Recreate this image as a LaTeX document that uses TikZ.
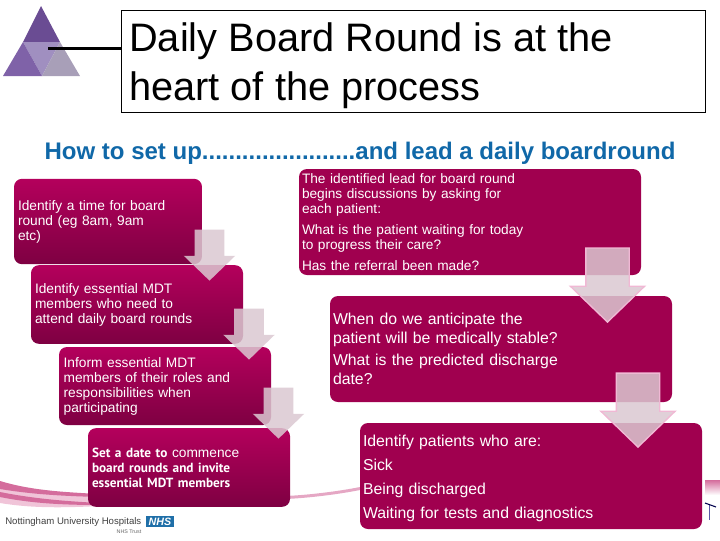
\documentclass[tikz,border=0pt]{standalone}
\usepackage{fontspec}
\setmainfont{Liberation Sans}
\usetikzlibrary{shapes.arrows}
\newfontfamily\boldsetfont{PT Sans}
\newcommand{\boldpart}[1]{{\boldsetfont\fontsize{9.95}{11.25}\bfseries\selectfont #1}}
\definecolor{boxtop}{HTML}{B4005C}
\definecolor{boxlow}{HTML}{7E0042}
\definecolor{boxflat}{HTML}{A0004F}
\definecolor{arrowfill}{HTML}{DBC8D1}
\definecolor{arrowedge}{HTML}{F0B8D4}
\definecolor{headblue}{HTML}{1068A8}
\definecolor{nhsblue}{HTML}{1F6FA8}
\definecolor{swooshpale}{HTML}{F0C4D8}
\definecolor{swooshdark}{HTML}{D46C9C}
\definecolor{pyrtop}{HTML}{6A4C93}
\definecolor{pyrmid}{HTML}{A08FC0}
\definecolor{pyrleft}{HTML}{7F62A8}
\definecolor{pyrright}{HTML}{A89FB8}

\begin{document}
\begin{tikzpicture}[
  x=0.75pt, y=-0.75pt,
  leftbox/.style={rounded corners=6pt, top color=boxtop, bottom color=boxlow, text=white, align=left,
    inner sep=0pt, font=\fontsize{10.3}{11.25}\selectfont},
  rightbox/.style={rounded corners=6pt, fill=boxflat, text=white, align=left, inner sep=0pt,
    minimum width=256.5pt, minimum height=79.5pt, text width=252pt},
  downarrow/.style={single arrow, shape border rotate=270, anchor=tip, fill=arrowfill, fill opacity=0.85,
    inner sep=0pt, single arrow tip angle=92},
  smallarrow/.style={downarrow, minimum width=38.25pt, minimum height=38.25pt, single arrow head extend=8.25pt},
  bigarrow/.style={downarrow, draw=arrowedge, line width=1pt, minimum width=54.75pt, minimum height=55.5pt,
    single arrow head extend=11.6pt}
]
  \useasboundingbox (0,0) rectangle (720,540);

  % swoosh behind the boxes
  \fill[swooshpale] (0,481) .. controls (30,492) and (60,495) .. (100,497) -- (100,506) .. controls (60,508) and (30,508) .. (0,503) -- cycle;
  \fill[swooshdark] (0,481) .. controls (30,490) and (60,492) .. (100,494) -- (100,497) .. controls (60,496) and (30,494) .. (0,489) -- cycle;
  \fill[swooshdark] (0,492) .. controls (30,498) and (60,501) .. (100,503) -- (100,505) .. controls (60,505) and (30,503) .. (0,497) -- cycle;
  \fill[swooshdark!60] (285,496) .. controls (310,495) and (340,491) .. (360,487) -- (360,490) .. controls (340,494) and (310,498) .. (285,499) -- cycle;
  \fill[top color=swooshdark, bottom color=white] (705,480) rectangle (720,495);

  % triangle top left
  \fill[pyrtop] (41,6) -- (60,42) -- (23,42) -- cycle;
  \fill[pyrmid] (23,42) -- (60,42) -- (42,76) -- cycle;
  \fill[pyrleft] (23,42) -- (42,76) -- (3,76) -- cycle;
  \fill[pyrright] (60,42) -- (80,76) -- (42,76) -- cycle;
  \coordinate (pyramid) at (48,48);

  % title
  \node[draw=black, line width=0.75pt, minimum width=438pt, minimum height=77pt, inner sep=0pt] (title) at (413,61.5) {};
  \node[anchor=west, inner sep=0pt, align=left, font=\fontsize{29.8}{36.75}\selectfont] (titletext) at (129,66) {Daily Board Round is at the\\heart of the process};
  \draw[line width=2.25pt] (pyramid) -- (title.west |- pyramid);

  \node[text=headblue, font=\fontsize{18}{21}\bfseries\selectfont] (howto) at (360,153) {How to set up.......................and lead a daily boardround};

  % left column
  \node[leftbox, minimum width=141pt, minimum height=64pt, text width=135pt] (timebox) at (108,221.5) {Identify a time for board\\round (eg 8am, 9am\\etc)};
  \node[leftbox, minimum width=159pt, minimum height=59pt, text width=153pt] (membox) at (137,304.5) {Identify essential MDT\\members who need to\\attend daily board rounds};
  \node[leftbox, minimum width=159pt, minimum height=58.5pt, text width=152pt] (rolebox) at (165,386) {Inform essential MDT\\members of their roles and\\responsibilities when\\participating};
  \node[leftbox, minimum width=151.5pt, minimum height=59pt, text width=145.5pt] (datebox) at (189,467.5) {\boldpart{Set a date to} commence\\\boldpart{board rounds and invite}\\\boldpart{essential MDT members}};

  % right column
  \node[rightbox, font=\fontsize{10.26}{11.25}\selectfont] (leadbox) at (470,222) {The identified lead for board round\\begins discussions by asking for\\each patient:\\[4.5pt]What is the patient waiting for today\\to progress their care?\\[4.5pt]Has the referral been made?};
  \node[rightbox, font=\fontsize{11.85}{14}\selectfont] (stablebox) at (501,349) {When do we anticipate the\\patient will be medically stable?\\[3pt]What is the predicted discharge\\date?};
  \node[rightbox, font=\fontsize{11.85}{18}\selectfont] (sickbox) at (531,476) {\rule{0pt}{12pt}Identify patients who are:\\Sick\\Being discharged\\Waiting for tests and diagnostics};

  % block arrows
  \node[smallarrow] (arrowa) at (209.5,281) {\phantom{\rule{21.75pt}{21.75pt}}};
  \node[smallarrow] (arrowb) at (249,360) {\phantom{\rule{21.75pt}{21.75pt}}};
  \node[smallarrow] (arrowc) at (278.5,439) {\phantom{\rule{21.75pt}{21.75pt}}};
  \node[bigarrow] (arrowd) at (607.5,323) {\phantom{\rule{31.5pt}{31.5pt}}};
  \node[bigarrow] (arrowe) at (638,448) {\phantom{\rule{31.5pt}{31.5pt}}};

  % logo
  \node[anchor=west, inner sep=0pt, text=black!75, font=\fontsize{7.2}{9}\selectfont] (trust) at (5,522) {Nottingham University Hospitals};
  \node[fill=nhsblue, text=white, minimum width=21pt, minimum height=8.25pt, inner sep=0pt, font=\fontsize{8}{9}\bfseries\itshape\selectfont] (nhs) at (160,521.5) {NHS};
  \node[inner sep=0pt, font=\fontsize{4}{5}\selectfont, text=black!60] (nhstrust) at (129,532) {NHS Trust};

  % small mark bottom right
  \coordinate (marktop) at (709,505);
  \coordinate (markfoot) at (709,520);
  \draw[gray!70!blue, line width=0.6pt] (marktop) -- (markfoot);
  \draw[black!70!blue, line width=0.8pt] (705,503) -- (716,507);
\end{tikzpicture}
\end{document}
